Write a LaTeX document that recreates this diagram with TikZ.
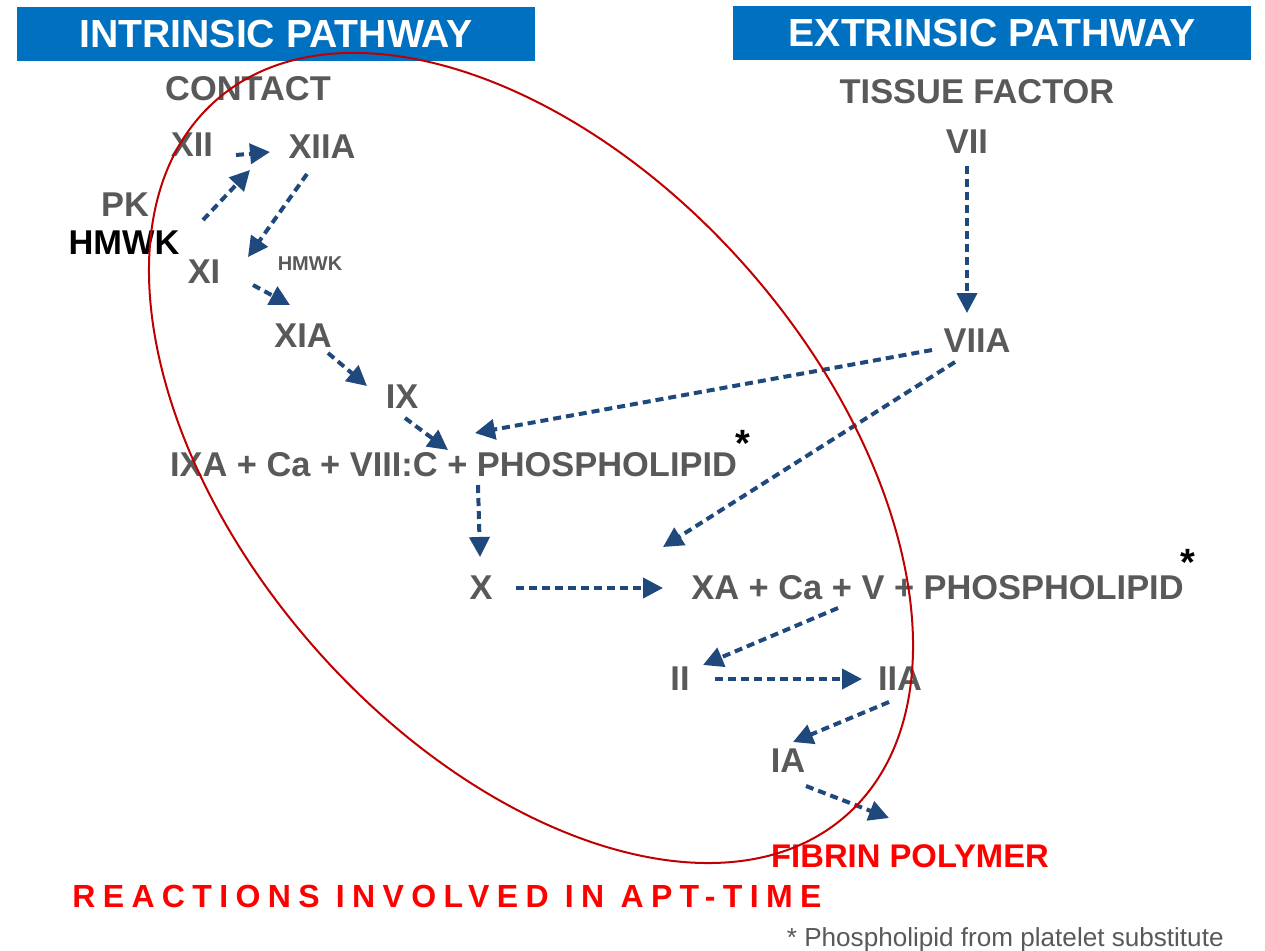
\documentclass[tikz,border=0pt]{standalone}
\usepackage{fontspec}
\setmainfont{Liberation Sans}
\usetikzlibrary{arrows.meta,calc,positioning}
\definecolor{fgray}{RGB}{89,89,89}
\definecolor{linkblue}{RGB}{31,73,125}
\definecolor{pathblue}{RGB}{0,112,192}
\definecolor{ringred}{RGB}{192,0,0}
\tikzstyle{factor} = [text=fgray, font=\fontsize{17.2}{19}\selectfont\bfseries, inner sep=0pt]
\tikzstyle{pathway} = [fill=pathblue, text=white, font=\fontsize{19.6}{21}\selectfont\bfseries, minimum width=259pt, minimum height=27pt, inner sep=0pt]
\tikzstyle{link} = [draw=linkblue, line width=2pt, dash pattern=on 4pt off 2.5pt, -{Triangle[length=10pt,width=10pt]}]

\begin{document}
\begin{tikzpicture}[x=0.5pt, y=-0.5pt]
        \tikzstyle{star} = [font=\fontsize{19}{21}\selectfont\bfseries, inner sep=0pt, anchor=base]
        \fill[white] (0,0) rectangle (1265,950);
        \useasboundingbox (0,0) rectangle (1265,950);

        \node[pathway] (intr) at (276,34) {INTRINSIC PATHWAY};
        \node[pathway] (extr) at (992,33) {EXTRINSIC PATHWAY};
        \node[factor] (contact) at (248,89) {CONTACT};
        \node[factor] (tf) at (977,92) {TISSUE FACTOR};

        \node[factor] (xii) at (192,145) {XII};
        \node[factor] (xiia) at (322,147) {XIIA};
        \node[factor] (pk) at (125,205) {PK};
        \node[factor, text=black] (hmwk) at (124,243) {HMWK};
        \node[factor] (xi) at (204,272) {XI};
        \node[factor, font=\fontsize{10}{11}\selectfont\bfseries] (hmwks) at (310,264) {HMWK};
        \node[factor] (xia) at (303,336) {XIA};
        \node[factor] (ix) at (402,397) {IX};
        \node[factor] (ixa) at (453.5,465) {IXA + Ca + VIII:C + PHOSPHOLIPID};
        \node[star] (star1) at (743,456) {*};
        \node[factor] (x) at (481,588) {X};
        \node[factor] (xa) at (937.5,588) {XA + Ca + V + PHOSPHOLIPID};
        \node[star] (star2) at (1188,575) {*};
        \node[factor] (vii) at (967,142) {VII};
        \node[factor] (viia) at (977,341) {VIIA};
        \node[factor] (ii) at (680,679) {II};
        \node[factor] (iia) at (900,679) {IIA};
        \node[factor] (ia) at (788,761) {IA};
        \node[factor, text=red, font=\fontsize{16.4}{18}\selectfont\bfseries] (fibrin) at (910,856) {FIBRIN POLYMER};

        \node[text=red, inner sep=0pt, anchor=base west, font=\fontsize{16}{18}\selectfont\bfseries\addfontfeature{LetterSpace=23}] (apttitle) at (72,907) {REACTIONS INVOLVED IN APT-TIME};
        \node[text=fgray, inner sep=0pt, anchor=base east, font=\fontsize{13.05}{14}\selectfont] (note) at (1224,946) {* Phospholipid from platelet substitute};

        \draw[link] ($(xii)+(44,10)$) -- ($(xiia)+(-52,5)$);
        \draw[link] ($(pk)+(78,15)$) -- ($(xiia)+(-72,23)$);
        \draw[link] ($(xiia)+(-15,27)$) -- ($(xi)+(44,-15)$);
        \draw[link] ($(xi)+(49,13)$) -- ($(xia)+(-13,-31)$);
        \draw[link] ($(xia)+(25,17)$) -- ($(ix)+(-35,-11)$);
        \draw[link] ($(ix)+(3,21)$) -- ($(ixa)+(-5.5,-15)$);
        \draw[link] ($(viia)+(-45,9)$) -- ($(ixa)+(21.5,-32)$);
        \draw[link] ($(viia)+(-22,21)$) -- ($(xa)+(-274.5,-41)$);
        \draw[link] ($(ixa)+(24.5,20)$) -- ($(x)+(-1,-31)$);
        \draw[link] ($(x)+(35,0)$) -- ($(xa)+(-274.5,0)$);
        \draw[link] ($(xa)+(-99.5,20)$) -- ($(ii)+(23,-14)$);
        \draw[link] ($(vii)+(0,24)$) -- ($(viia)+(-10,-28)$);
        \draw[link] ($(ii)+(35,0)$) -- ($(iia)+(-38,0)$);
        \draw[link] ($(iia)+(-11,23)$) -- ($(ia)+(5,-19)$);
        \draw[link] ($(ia)+(18,25)$) -- ($(fibrin)+(-21,-38)$);

        \coordinate (aptc) at (531,458);
        \draw[ringred, line width=1pt, rotate around={-48.6:(aptc)}] (aptc) ellipse [x radius=238.3pt, y radius=143.9pt];
    \end{tikzpicture}
\end{document}
